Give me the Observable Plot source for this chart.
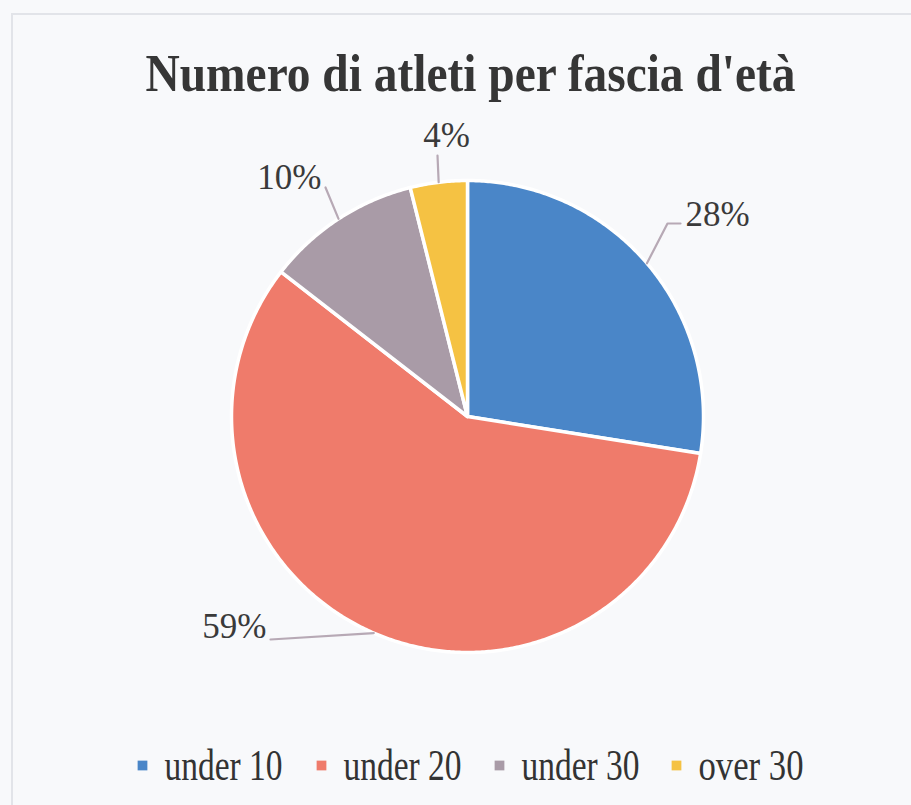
<!DOCTYPE html>
<html><head><meta charset="utf-8">
<script src="https://cdn.jsdelivr.net/npm/d3@7"></script>
<script src="https://cdn.jsdelivr.net/npm/@observablehq/plot@0.6"></script>
<style>
html,body{margin:0;padding:0;background:#f8f9fb;}
#wrap{position:relative;width:911px;height:805px;overflow:hidden;background:#f8f9fb;}
#frame{position:absolute;left:11px;top:13px;width:940px;height:840px;border-left:2px solid #e2e4e9;border-top:2px solid #e2e4e9;}
#chart{position:absolute;left:0;top:0;}
</style></head><body>
<div id="wrap"><div id="frame"></div><div id="chart"></div></div>
<script>
// ---- data ----
const chartTitle = "Numero di atleti per fascia d'età";
const categories = ["under 10", "under 20", "under 30", "over 30"];
const shares = [27.5, 58.0, 10.6, 3.9];
const percentLabels = ["28%", "59%", "10%", "4%"];
const colors = ["#4a86c8", "#ef7b6b", "#a99ba7", "#f5c243"];

// ---- layout (pixels) ----
const W = 911, H = 805;
const cx = 467, cy = 416, R = 236;
const titleWidth = 650;
const leaderLayout = [
  {pts: [[200, -193], [213, -193]], tx: 218, ty: -191, anchor: "start"},
  {pts: [[-197, 223]], tx: -201, ty: 221, anchor: "end"},
  {pts: [[-142, -229]], tx: -146, ty: -228, anchor: "end"},
  {pts: [[-30, -261]], tx: -21, ty: -270, anchor: "middle"}
];
const legendY = 765;
const legendSquareX = [142, 321, 499, 676];
const legendTextWidth = [118, 118, 118, 105];

const rows = categories.map((c, i) => ({cat: c, value: shares[i], label: percentLabels[i], color: colors[i]}));
const arcs = d3.pie().sort(null).value(d => d.value)(rows);

const polar = (a, r) => [cx + r * Math.sin(a), cy - r * Math.cos(a)];

const sliceMarks = arcs.map(a => {
  const pts = [[cx, cy]];
  const n = Math.max(2, Math.ceil((a.endAngle - a.startAngle) / (Math.PI / 360)));
  for (let k = 0; k <= n; k++) {
    const t = a.startAngle + (a.endAngle - a.startAngle) * k / n;
    pts.push(polar(t, R));
  }
  pts.push([cx, cy]);
  return Plot.line(pts, {x: d => d[0], y: d => d[1], fill: a.data.color, stroke: "white", strokeWidth: 3.5, strokeLinejoin: "round", curve: "linear"});
});

const leaderMarks = arcs.map((a, i) => {
  const mid = (a.startAngle + a.endAngle) / 2;
  const pts = [polar(mid, R)].concat(leaderLayout[i].pts.map(p => [cx + p[0], cy + p[1]]));
  return Plot.line(pts, {x: d => d[0], y: d => d[1], stroke: "#b7a9b5", strokeWidth: 2.2});
});

const labelData = arcs.map((a, i) => ({text: a.data.label, x: cx + leaderLayout[i].tx, y: cy + leaderLayout[i].ty, anchor: leaderLayout[i].anchor}));

const legendData = rows.map((r, i) => ({...r, x: legendSquareX[i], y: legendY}));

const plot = Plot.plot({
  width: W, height: H,
  margin: 0,
  x: {domain: [0, W], range: [0, W], axis: null},
  y: {domain: [0, H], range: [0, H], axis: null},
  style: {background: "transparent", fontFamily: "'Liberation Serif', 'Times New Roman', serif"},
  marks: [
    ...sliceMarks,
    ...leaderMarks,
    ...["start", "middle", "end"].map(anc => Plot.text(labelData.filter(d => d.anchor === anc), {x: "x", y: "y", text: "text", textAnchor: anc, lineAnchor: "bottom", fontSize: 35, fill: "#3a3a3a"})),
    Plot.text([chartTitle], {x: 470, y: 90, text: d => d, fontSize: 53, fontWeight: "bold", fill: "#363636", lineAnchor: "bottom"}),
    Plot.dot(legendData, {x: "x", y: "y", symbol: "square", r: 5.5, fill: "color", stroke: "none"}),
    Plot.text(legendData, {x: d => d.x + 22, y: d => d.y + 14, text: "cat", textAnchor: "start", lineAnchor: "bottom", fontSize: 44, fill: "#333333"})
  ]
});
// condense text to match the reference's narrow serif
d3.select(plot).selectAll("text").each(function () {
  const t = this.textContent;
  if (t === chartTitle) {
    d3.select(this).attr("textLength", titleWidth).attr("lengthAdjust", "spacingAndGlyphs");
  }
  const li = categories.indexOf(t);
  if (li >= 0) {
    d3.select(this).attr("textLength", legendTextWidth[li]).attr("lengthAdjust", "spacingAndGlyphs");
  }
});
document.getElementById("chart").appendChild(plot);
</script>
</body></html>
